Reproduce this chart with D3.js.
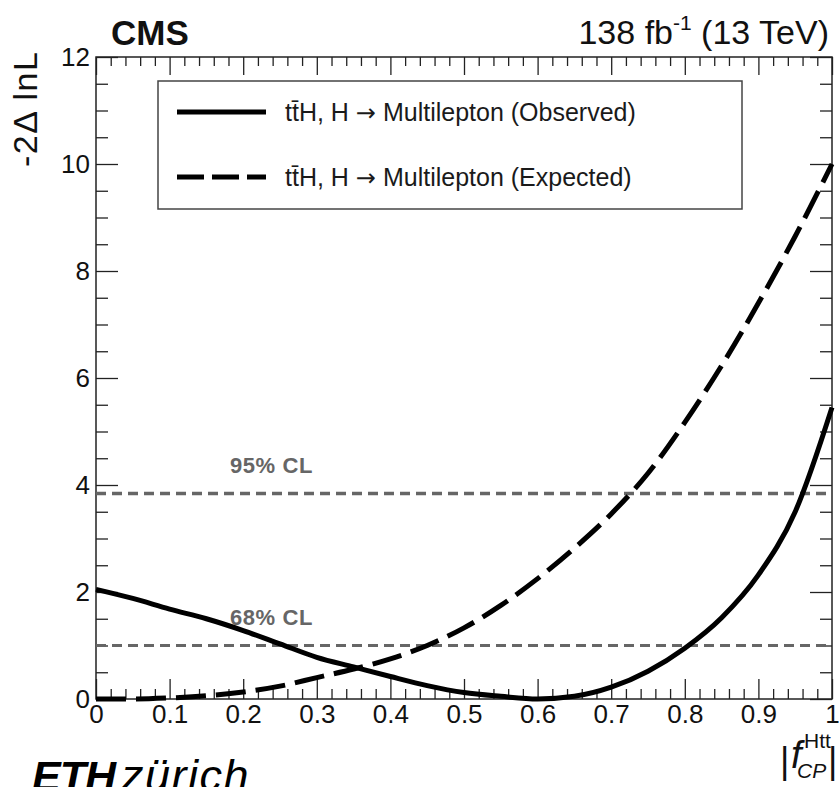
<!DOCTYPE html>
<html>
<head>
<meta charset="utf-8">
<script src="https://cdn.jsdelivr.net/npm/d3@7"></script>
<style>
  html, body { margin: 0; padding: 0; background: #fff; }
  svg { display: block; font-family: "Liberation Sans", Arial, Helvetica, sans-serif; }
</style>
</head>
<body>
<svg id="chart" width="839" height="787"></svg>
<script>
// ---- data ----
const fcpValues = [0, 0.05, 0.1, 0.15, 0.2, 0.25, 0.3, 0.35, 0.4, 0.45, 0.5,
                   0.55, 0.6, 0.65, 0.7, 0.75, 0.8, 0.85, 0.9, 0.95, 1.0];
const observed = [2.05, 1.88, 1.68, 1.5, 1.28, 1.03, 0.78, 0.6, 0.42, 0.25, 0.12,
                  0.05, 0.0, 0.05, 0.22, 0.52, 0.95, 1.52, 2.32, 3.5, 5.45];
const expected = [0.0, 0.0, 0.02, 0.06, 0.13, 0.24, 0.4, 0.56, 0.75, 1.0, 1.33,
                  1.75, 2.25, 2.82, 3.46, 4.22, 5.17, 6.23, 7.4, 8.65, 10.0];
const clLevels = [{label: "95% CL", value: 3.84}, {label: "68% CL", value: 1.0}];
const xTicks = [0, 0.1, 0.2, 0.3, 0.4, 0.5, 0.6, 0.7, 0.8, 0.9, 1];
const xTickLabels = ["0", "0.1", "0.2", "0.3", "0.4", "0.5", "0.6", "0.7", "0.8", "0.9", "1"];
const yTicks = [0, 2, 4, 6, 8, 10, 12];
const legendLabels = ["Observed", "Expected"];

// ---- layout ----
const svg = d3.select("#chart");
const L = 96, R = 832, T = 57, B = 699;
const x = d3.scaleLinear().domain([0, 1]).range([L, R]);
const y = d3.scaleLinear().domain([0, 12]).range([B, T]);
const axisColor = "#222";

const xMinor = d3.range(0, 1.0001, 0.02).filter(v => Math.abs(v * 10 - Math.round(v * 10)) > 1e-6);
const yMinor = d3.range(0, 12.0001, 0.5).filter(v => Math.abs(v / 2 - Math.round(v / 2)) > 1e-6);

function styleAxis(g) {
  g.select(".domain").remove();
  g.selectAll(".tick line").attr("stroke", axisColor).attr("stroke-width", 1.3);
  g.selectAll(".tick text").attr("fill", "#111").attr("font-family", "Liberation Sans, Arial, sans-serif");
}

// bottom axis
svg.append("g").attr("transform", `translate(0,${B})`)
  .call(d3.axisBottom(x).tickValues(xTicks).tickFormat((d, i) => xTickLabels[i]).tickSizeInner(-20).tickSizeOuter(0).tickPadding(6))
  .call(styleAxis).call(g => g.selectAll(".tick text").attr("font-size", 26));
svg.append("g").attr("transform", `translate(0,${B})`)
  .call(d3.axisBottom(x).tickValues(xMinor).tickFormat("").tickSizeInner(-10).tickSizeOuter(0))
  .call(styleAxis);
// top axis
svg.append("g").attr("transform", `translate(0,${T})`)
  .call(d3.axisTop(x).tickValues(xTicks).tickFormat("").tickSizeInner(-18).tickSizeOuter(0))
  .call(styleAxis);
svg.append("g").attr("transform", `translate(0,${T})`)
  .call(d3.axisTop(x).tickValues(xMinor).tickFormat("").tickSizeInner(-9).tickSizeOuter(0))
  .call(styleAxis);
// left axis
svg.append("g").attr("transform", `translate(${L},0)`)
  .call(d3.axisLeft(y).tickValues(yTicks).tickFormat(d3.format("d")).tickSizeInner(-22).tickSizeOuter(0).tickPadding(6))
  .call(styleAxis).call(g => g.selectAll(".tick text").attr("font-size", 26));
svg.append("g").attr("transform", `translate(${L},0)`)
  .call(d3.axisLeft(y).tickValues(yMinor).tickFormat("").tickSizeInner(-12).tickSizeOuter(0))
  .call(styleAxis);
// right axis
svg.append("g").attr("transform", `translate(${R},0)`)
  .call(d3.axisRight(y).tickValues(yTicks).tickFormat("").tickSizeInner(-22).tickSizeOuter(0))
  .call(styleAxis);
svg.append("g").attr("transform", `translate(${R},0)`)
  .call(d3.axisRight(y).tickValues(yMinor).tickFormat("").tickSizeInner(-12).tickSizeOuter(0))
  .call(styleAxis);

// frame
svg.append("rect").attr("x", L).attr("y", T).attr("width", R - L).attr("height", B - T)
  .attr("fill", "none").attr("stroke", axisColor).attr("stroke-width", 1.5);

// CL lines and labels
clLevels.forEach((c, i) => {
  svg.append("line")
    .attr("x1", x(0)).attr("x2", x(1)).attr("y1", y(c.value)).attr("y2", y(c.value))
    .attr("stroke", "#666").attr("stroke-width", i === 0 ? 3.5 : 2.8)
    .attr("stroke-dasharray", "10,6");
  svg.append("text")
    .attr("x", x(0.182)).attr("y", y(c.value) - 21)
    .attr("font-size", 22).attr("font-weight", "bold").attr("fill", "#666")
    .attr("letter-spacing", 0.6)
    .text(c.label);
});

// curves
const line = d3.line().x(d => x(d[0])).y(d => y(d[1])).curve(d3.curveMonotoneX);
svg.append("path").datum(fcpValues.map((v, i) => [v, expected[i]]))
  .attr("d", line).attr("fill", "none").attr("stroke", "#000").attr("stroke-width", 5)
  .attr("stroke-dasharray", "30,10");
svg.append("path").datum(fcpValues.map((v, i) => [v, observed[i]]))
  .attr("d", line).attr("fill", "none").attr("stroke", "#000").attr("stroke-width", 5);

// legend
const lg = svg.append("g");
lg.append("rect").attr("x", 158).attr("y", 81).attr("width", 584).attr("height", 128)
  .attr("fill", "#fff").attr("stroke", "#444").attr("stroke-width", 1.5);
legendLabels.forEach((lab, i) => {
  const yy = 112 + i * 65;
  lg.append("line").attr("x1", 177).attr("x2", 266).attr("y1", yy).attr("y2", yy)
    .attr("stroke", "#000").attr("stroke-width", 5)
    .attr("stroke-dasharray", i === 1 ? "27,8" : null);
  const t = lg.append("text").attr("x", 285).attr("y", yy + 9).attr("font-size", 25).attr("fill", "#1a1a1a");
  t.append("tspan").text("tt\u0304H, H ");
  t.append("tspan").attr("font-family", "DejaVu Sans").attr("font-size", 24).text("\u2192");
  t.append("tspan").text(" Multilepton (" + lab + ")");
});

// header
svg.append("text").attr("x", 111).attr("y", 45).attr("font-size", 35).attr("font-weight", "bold")
  .attr("fill", "#111").text("CMS");
const hdr = svg.append("text").attr("x", 829).attr("y", 44).attr("text-anchor", "end")
  .attr("font-size", 34).attr("fill", "#111");
hdr.append("tspan").text("138 fb");
hdr.append("tspan").attr("font-size", 21).attr("dy", -14).text("-1");
hdr.append("tspan").attr("dy", 14).text(" (13 TeV)");

// y axis title
svg.append("text").attr("transform", "translate(37,167) rotate(-90)")
  .attr("font-size", 34).attr("letter-spacing", 1.5).attr("fill", "#111").text("-2\u0394 lnL");

// x axis title
const xtitle = svg.append("g").attr("fill", "#111");
xtitle.append("text").attr("x", 780).attr("y", 773).attr("font-size", 36).text("|");
xtitle.append("text").attr("x", 791).attr("y", 768).attr("font-size", 38).attr("font-style", "italic").text("f");
xtitle.append("text").attr("x", 804).attr("y", 748).attr("font-size", 21).text("Htt");
xtitle.append("text").attr("x", 797).attr("y", 778).attr("font-size", 21).attr("font-style", "italic").text("CP");
xtitle.append("text").attr("x", 828).attr("y", 773).attr("font-size", 36).text("|");

// ETH logo
const eth = svg.append("text").attr("x", 32).attr("y", 791).attr("font-size", 43).attr("fill", "#000");
eth.append("tspan").attr("font-weight", "bold").attr("font-style", "italic").attr("letter-spacing", -1).text("ETH");
eth.append("tspan").attr("font-style", "italic").attr("dx", 6).attr("font-size", 45).attr("letter-spacing", 1.5).text("zürich");
</script>
</body>
</html>
